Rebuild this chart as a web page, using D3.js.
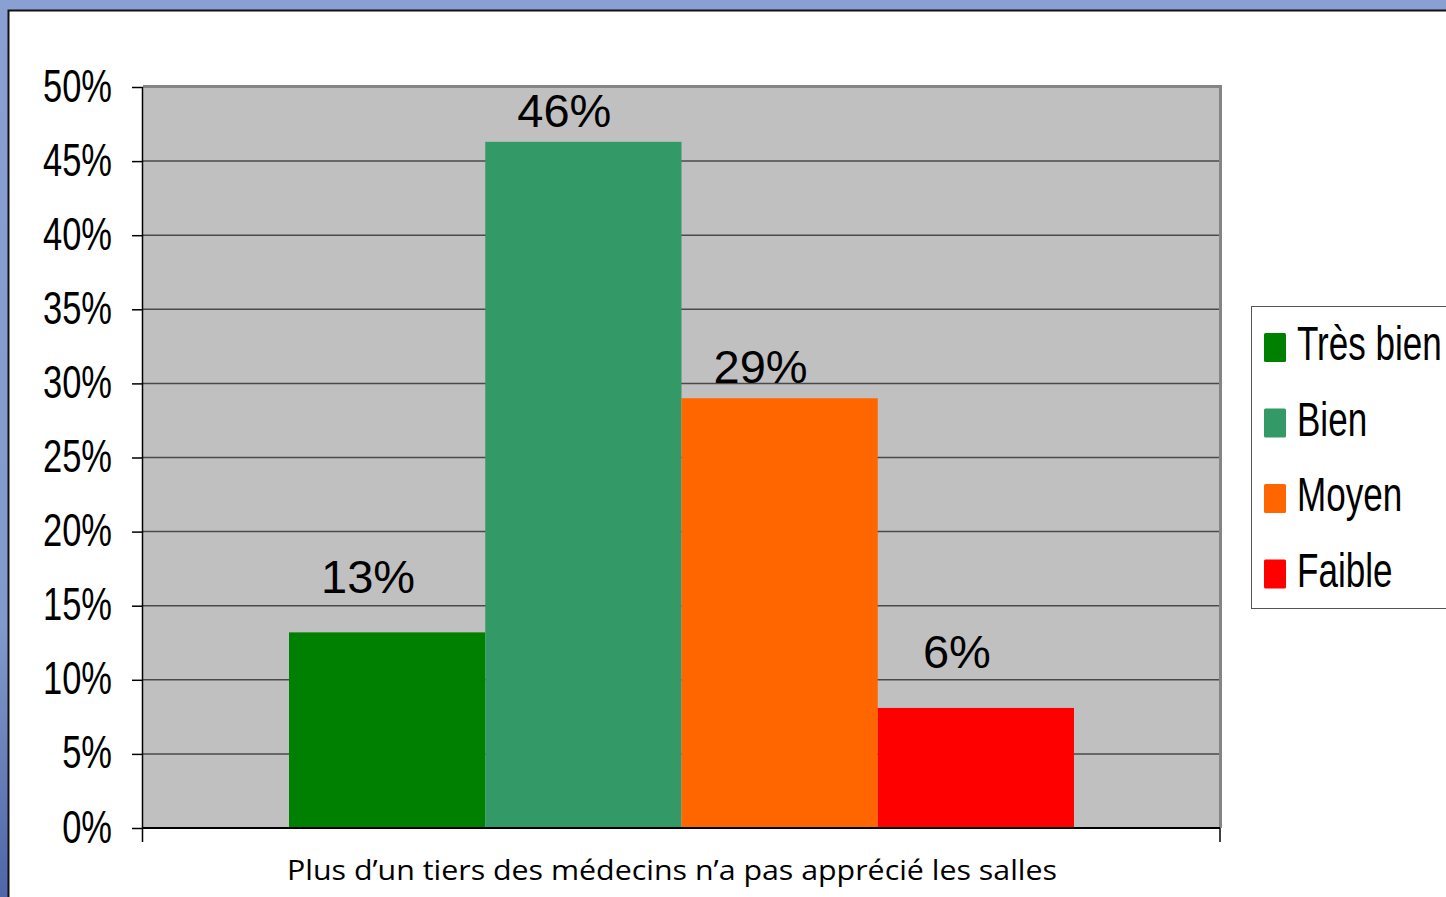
<!DOCTYPE html>
<html>
<head>
<meta charset="utf-8">
<script src="https://cdn.jsdelivr.net/npm/d3@7"></script>
<style>
  html, body { margin: 0; padding: 0; background: #fff; }
  svg { display: block; }
</style>
</head>
<body>
<div id="root"></div>
<script>
"use strict";

// series shown as one group of bars
var categories = ["Très bien", "Bien", "Moyen", "Faible"];
var barValues = [13.2, 46.3, 29.0, 8.1];          // bar heights (%)
var barLabels = ["13%", "46%", "29%", "6%"];       // labels as printed on the slide
var colors = ["#008000", "#339966", "#ff6600", "#ff0000"];
var yTicks = [0, 5, 10, 15, 20, 25, 30, 35, 40, 45, 50];
var xTitle = "Plus d’un tiers des médecins n’a pas apprécié les salles";

var width = 1446, height = 897;
var plot = { left: 143, right: 1220, top: 87, bottom: 828 };

var svg = d3.select("#root").append("svg")
    .attr("width", width)
    .attr("height", height);

// slide background
var defs = svg.append("defs");
var grad = defs.append("linearGradient")
    .attr("id", "sideGrad")
    .attr("x1", 0).attr("y1", 0).attr("x2", 0).attr("y2", 1);
grad.append("stop").attr("offset", "0%").attr("stop-color", "#8aa0d2");
grad.append("stop").attr("offset", "70%").attr("stop-color", "#8299cc");
grad.append("stop").attr("offset", "100%").attr("stop-color", "#4f66a8");

svg.append("rect").attr("width", width).attr("height", height).attr("fill", "url(#sideGrad)");
svg.append("rect")
    .attr("x", 8.5).attr("y", 10.5)
    .attr("width", width).attr("height", height)
    .attr("fill", "#fff")
    .attr("stroke", "#111")
    .attr("stroke-width", 2);

var y = d3.scaleLinear()
    .domain([0, 50])
    .range([plot.bottom, plot.top]);

var x = d3.scaleBand()
    .domain(categories)
    .range([plot.left + 146, plot.right - 146])
    .paddingInner(0);

// plot area
svg.append("rect")
    .attr("x", plot.left).attr("y", plot.top)
    .attr("width", plot.right - plot.left)
    .attr("height", plot.bottom - plot.top)
    .attr("fill", "#c0c0c0");

// gridlines
svg.append("g")
    .selectAll("line")
    .data(yTicks.filter(function (d) { return d > 0 && d < 50; }))
    .enter()
    .append("line")
    .attr("x1", plot.left).attr("x2", plot.right)
    .attr("y1", function (d) { return y(d); })
    .attr("y2", function (d) { return y(d); })
    .attr("stroke", "#4a4a4a")
    .attr("stroke-width", 1.5);

// top / right frame of plot area
svg.append("path")
    .attr("d", "M" + plot.left + "," + (plot.top - 0.5) + "H" + (plot.right + 0.5) + "V" + plot.bottom)
    .attr("fill", "none")
    .attr("stroke", "#858585")
    .attr("stroke-width", 3);

// bars
svg.append("g")
    .selectAll("rect")
    .data(categories)
    .enter()
    .append("rect")
    .attr("x", function (d) { return x(d); })
    .attr("width", x.bandwidth())
    .attr("y", function (d, i) { return y(barValues[i]); })
    .attr("height", function (d, i) { return plot.bottom - y(barValues[i]); })
    .attr("fill", function (d, i) { return colors[i]; });

// data labels (slightly left of bar centres, as on the slide)
var labelLift = [39, 15, 15, 40];
svg.append("g")
    .selectAll("text")
    .data(categories)
    .enter()
    .append("text")
    .attr("x", function (d) { return x(d) + x.bandwidth() / 2 - 19; })
    .attr("y", function (d, i) { return y(barValues[i]) - labelLift[i]; })
    .attr("text-anchor", "middle")
    .attr("font-family", "Liberation Sans, Arial, sans-serif")
    .attr("font-size", 47)
    .attr("fill", "#000")
    .text(function (d, i) { return barLabels[i]; });

// y axis
var yAxis = d3.axisLeft(y)
    .tickValues(yTicks)
    .tickSize(11)
    .tickFormat(function (d) { return d + "%"; });

var gy = svg.append("g")
    .attr("transform", "translate(" + plot.left + ",0)")
    .call(yAxis);
gy.select(".domain").remove();
gy.selectAll(".tick line").attr("stroke", "#000").attr("stroke-width", 1.5);
gy.selectAll(".tick text").remove();

gy.selectAll(".tick")
    .append("text")
    .attr("transform", "translate(-31,14) scale(0.75,1)")
    .attr("text-anchor", "end")
    .attr("font-family", "Liberation Sans, Arial, sans-serif")
    .attr("font-size", 46)
    .attr("fill", "#000")
    .text(function (d) { return d + "%"; });

// axis lines
svg.append("line")
    .attr("x1", plot.left - 0.5).attr("x2", plot.left - 0.5)
    .attr("y1", plot.top).attr("y2", plot.bottom + 14)
    .attr("stroke", "#000").attr("stroke-width", 1.5);
svg.append("line")
    .attr("x1", plot.left).attr("x2", plot.right)
    .attr("y1", plot.bottom).attr("y2", plot.bottom)
    .attr("stroke", "#000").attr("stroke-width", 2);
svg.append("line")
    .attr("x1", plot.right).attr("x2", plot.right)
    .attr("y1", plot.bottom).attr("y2", plot.bottom + 14)
    .attr("stroke", "#000").attr("stroke-width", 1.5);

// x title
svg.append("text")
    .attr("x", 672)
    .attr("y", 880)
    .attr("text-anchor", "middle")
    .attr("font-family", "Open Sans, Noto Sans, sans-serif")
    .attr("font-size", 28)
    .attr("textLength", 770)
    .attr("lengthAdjust", "spacingAndGlyphs")
    .attr("fill", "#000")
    .text(xTitle);

// legend
var legend = svg.append("g").attr("transform", "translate(1251,306)");
legend.append("rect")
    .attr("x", 0.5).attr("y", 0.5)
    .attr("width", 220).attr("height", 302)
    .attr("fill", "#fff")
    .attr("stroke", "#555")
    .attr("stroke-width", 1);

var items = legend.selectAll(".item")
    .data(categories)
    .enter()
    .append("g")
    .attr("class", "item")
    .attr("transform", function (d, i) { return "translate(0," + (i * 75.5) + ")"; });

items.append("rect")
    .attr("x", 13).attr("y", 27)
    .attr("width", 22).attr("height", 29)
    .attr("rx", 1.5)
    .attr("fill", function (d, i) { return colors[i]; });

items.append("text")
    .attr("transform", "translate(46,54) scale(0.73,1)")
    .attr("font-family", "Liberation Sans, Arial, sans-serif")
    .attr("font-size", 48)
    .attr("fill", "#000")
    .text(function (d) { return d; });
</script>
</body>
</html>
